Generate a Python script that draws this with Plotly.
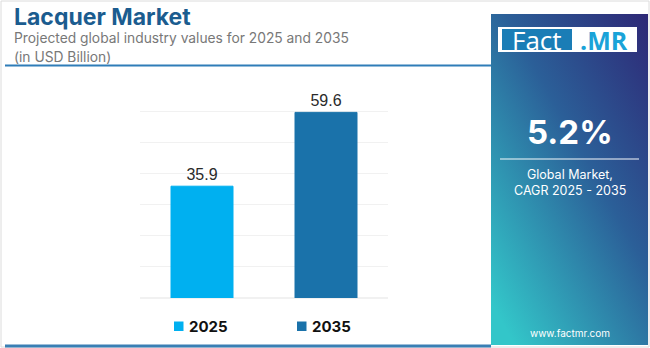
import base64
import plotly.graph_objects as go

# Market values (USD Billion)
years = ["2025", "2035"]
values = [35.9, 59.6]
bar_colors = ["#00b0f0", "#1a72aa"]

title_text = "Lacquer Market"
subtitle_lines = ["Projected global industry values for 2025 and 2035", "(in USD Billion)"]
cagr_text = "5.2%"
cagr_caption = ["Global Market,", "CAGR 2025 - 2035"]
site_text = "www.factmr.com"

W, H = 650, 348


def px(x):
    return x / W


def py(y):
    return 1 - y / H


fig = go.Figure()
for yr, val, col in zip(years, values, bar_colors):
    fig.add_trace(go.Bar(
        x=[yr], y=[val], name=yr,
        marker=dict(color=col, line=dict(color=col, width=1)),
        text=[f"{val:.1f}"], textposition="outside",
        textfont=dict(family="Liberation Sans, Arial", size=16, color="#2a2a2a"),
        cliponaxis=False, width=0.5, showlegend=False,
    ))

# gradient side panel as an inline SVG
svg = (
    '<svg xmlns="http://www.w3.org/2000/svg" width="157" height="331" preserveAspectRatio="none">'
    '<defs><linearGradient id="g" x1="1" y1="0" x2="0.15" y2="1">'
    '<stop offset="0" stop-color="#2e2876"/>'
    '<stop offset="0.45" stop-color="#2b5f98"/>'
    '<stop offset="1" stop-color="#33c6c9"/>'
    '</linearGradient></defs>'
    '<rect width="157" height="331" fill="url(#g)"/></svg>'
)
svg_uri = "data:image/svg+xml;base64," + base64.b64encode(svg.encode()).decode()

shapes = [
    # outer frame
    dict(type="rect", xref="paper", yref="paper", x0=px(1), x1=px(649), y0=py(347), y1=py(1),
         line=dict(color="#dcdcdc", width=1), fillcolor="rgba(0,0,0,0)", layer="below"),
    # header rule
    dict(type="line", xref="paper", yref="paper", x0=px(5), x1=px(491), y0=py(65.5), y1=py(65.5),
         line=dict(color="#2f7db8", width=2)),
    # footer rule
    dict(type="line", xref="paper", yref="paper", x0=px(5), x1=px(491), y0=py(346), y1=py(346),
         line=dict(color="#3a7fb4", width=3)),
    # logo box
    dict(type="rect", xref="paper", yref="paper", x0=px(498), x1=px(637), y0=py(52), y1=py(27),
         line=dict(width=0), fillcolor="white"),
    dict(type="rect", xref="paper", yref="paper", x0=px(502), x1=px(572), y0=py(50), y1=py(29),
         line=dict(width=0), fillcolor="#1a7db6"),
    # divider under CAGR
    dict(type="line", xref="paper", yref="paper", x0=px(500), x1=px(639), y0=py(159), y1=py(159),
         line=dict(color="rgba(255,255,255,0.65)", width=1.5)),
]

annotations = [
    dict(text=f"<b>{title_text}</b>", x=px(12), y=py(17), xanchor="left", yanchor="middle",
         font=dict(family="Inter", size=23, color="#1b5c8f")),
    dict(text=subtitle_lines[0], x=px(12), y=py(38), xanchor="left", yanchor="middle",
         font=dict(family="Inter", size=13.8, color="#787878")),
    dict(text=subtitle_lines[1], x=px(12), y=py(57), xanchor="left", yanchor="middle",
         font=dict(family="Inter", size=13.8, color="#787878")),
    dict(text="Fact", x=px(537), y=py(39.5), xanchor="center", yanchor="middle",
         font=dict(family="Open Sans", size=26, color="white")),
    dict(text="<b>.MR</b>", x=px(604), y=py(39.5), xanchor="center", yanchor="middle",
         font=dict(family="Open Sans", size=25, color="#1aa3d8")),
    dict(text=f"<b>{cagr_text}</b>", x=px(570), y=py(132), xanchor="center", yanchor="middle",
         font=dict(family="Inter", size=33, color="white")),
    dict(text=cagr_caption[0], x=px(570), y=py(174), xanchor="center", yanchor="middle",
         font=dict(family="Inter", size=12.5, color="white")),
    dict(text=cagr_caption[1], x=px(570), y=py(190), xanchor="center", yanchor="middle",
         font=dict(family="Inter", size=12.5, color="white")),
    dict(text=site_text, x=px(570), y=py(333), xanchor="center", yanchor="middle",
         font=dict(family="Inter", size=10, color="white")),
]

# legend: colour swatch plus bold year label
legend_x = [174, 297]
for yr, col, lx in zip(years, bar_colors, legend_x):
    shapes.append(dict(type="rect", xref="paper", yref="paper",
                       x0=px(lx), x1=px(lx + 9.5), y0=py(331), y1=py(321.5),
                       line=dict(width=0), fillcolor=col))
    annotations.append(dict(text=f"<b>{yr}</b>", x=px(lx + 13), y=py(326.5),
                            xanchor="left", yanchor="middle",
                            font=dict(family="Inter", size=15, color="#111111")))

for a in annotations:
    a.update(xref="paper", yref="paper", showarrow=False)

fig.update_layout(
    width=W, height=H,
    margin=dict(l=0, r=0, t=0, b=0),
    paper_bgcolor="white", plot_bgcolor="white",
    bargap=0.5,
    showlegend=False,
    xaxis=dict(domain=[px(140), px(388)], showgrid=False, showticklabels=False,
               showline=False, zeroline=False, ticks=""),
    yaxis=dict(domain=[py(298), py(80)], range=[0, 70], dtick=10, showgrid=True,
               gridcolor="#f1f1f1", gridwidth=1, showticklabels=False, zeroline=True,
               zerolinecolor="#f1f1f1", showline=False, ticks=""),
    shapes=shapes,
    annotations=annotations,
    images=[dict(source=svg_uri, xref="paper", yref="paper", x=px(491), y=py(14),
                 sizex=px(648) - px(491), sizey=py(14) - py(345), xanchor="left", yanchor="top",
                 sizing="stretch", layer="below")],
)

fig.write_html("out.html")
